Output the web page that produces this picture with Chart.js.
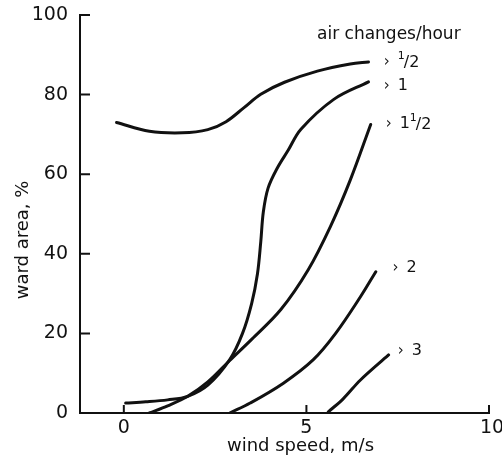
<!DOCTYPE html>
<html>
<head>
<meta charset="utf-8">
<script src="https://cdn.jsdelivr.net/npm/chart.js@4.4.0/dist/chart.umd.min.js"></script>
<style>
    html, body { margin: 0; padding: 0; background: #fff; }
    #chartCanvas { display: block; }
</style>
</head>
<body>
<canvas id="chartCanvas" width="502" height="461"></canvas>
<script>
const xTicks = [0, 5, 10];
const yTicks = [0, 20, 40, 60, 80, 100];

// wind speed (m/s) -> ward area (%)
const halfX = [-0.2, 0.7, 1.6, 2.3, 2.8, 3.3, 3.75, 4.4, 5.3, 6.2, 6.7];
const halfY = [73, 70.8, 70.4, 71.2, 73.2, 76.8, 80.1, 83.1, 85.9, 87.7, 88.2];

const oneX = [0.05, 0.6, 1.2, 1.75, 2.3, 2.9, 3.25, 3.5, 3.66, 3.75, 3.82, 3.95, 4.2, 4.5, 4.85, 5.75, 6.7];
const oneY = [2.5, 2.8, 3.3, 4.2, 7, 13.4, 20, 27.5, 35, 43, 50.5, 56.5, 61.5, 66, 71.3, 78.8, 83.2];

const oneHalfX = [0.7, 1.2, 1.75, 2.3, 2.9, 3.5, 4.3, 5.05, 5.66, 6.2, 6.76];
const oneHalfY = [0, 1.8, 4.2, 7.8, 13.2, 18.5, 26, 36, 46.9, 58.5, 72.5];

const twoX = [2.9, 3.46, 4.37, 5.19, 5.8, 6.48, 6.9];
const twoY = [0, 2.5, 7.5, 13.4, 20, 29.2, 35.5];

const threeX = [5.6, 6.0, 6.48, 7.25];
const threeY = [0.3, 3.5, 8.3, 14.6];

// curve labels: whole part, fraction numerator, fraction denominator, anchor (data coords)
const labelWhole = ["", "1", "1", "2", "3"];
const labelNum = ["1", "", "1", "", ""];
const labelDen = ["2", "", "2", "", ""];
const labelX = [7.12, 7.12, 7.17, 7.36, 7.5];
const labelY = [88.2, 82.2, 72.6, 36.4, 15.6];

const legendTitle = "air changes/hour";
const xTitle = "wind speed, m/s";
const yTitle = "ward area, %";

const INK = "#111";
const FONT = '"DejaVu Sans", sans-serif';

function points(xs, ys) {
    return xs.map((x, i) => ({ x: x, y: ys[i] }));
}

function curve(xs, ys) {
    return {
        data: points(xs, ys),
        borderColor: INK,
        borderWidth: 3,
        pointRadius: 0,
        fill: false,
        tension: 0.35,
        borderCapStyle: 'round'
    };
}

const drawAxes = {
    id: 'drawAxes',
    afterDraw(chart) {
        const ctx = chart.ctx;
        const xs = chart.scales.x;
        const ys = chart.scales.y;
        const left = chart.chartArea.left;
        const bottom = ys.getPixelForValue(0);
        const top = ys.getPixelForValue(100);
        const right = xs.getPixelForValue(10);

        ctx.save();
        ctx.strokeStyle = INK;
        ctx.lineWidth = 2;
        ctx.lineCap = 'square';

        ctx.beginPath();
        ctx.moveTo(left, top);
        ctx.lineTo(left, bottom);
        ctx.lineTo(right, bottom);
        ctx.stroke();

        // ticks point inward
        ctx.beginPath();
        yTicks.forEach(v => {
            if (v === 0) return;
            const py = ys.getPixelForValue(v);
            ctx.moveTo(left, py);
            ctx.lineTo(left + 9, py);
        });
        xTicks.forEach(v => {
            const px = xs.getPixelForValue(v);
            ctx.moveTo(px, bottom);
            ctx.lineTo(px, bottom - 7);
        });
        ctx.stroke();

        ctx.fillStyle = INK;
        ctx.font = '19px ' + FONT;
        ctx.textBaseline = 'middle';
        ctx.textAlign = 'right';
        yTicks.forEach(v => {
            ctx.fillText(String(v), left - 12, ys.getPixelForValue(v));
        });
        ctx.textAlign = 'center';
        xTicks.forEach(v => {
            const px = xs.getPixelForValue(v);
            ctx.fillText(String(v), v === 10 ? px + 3 : px, bottom + 15);
        });

        // axis titles
        ctx.font = '18px ' + FONT;
        ctx.fillText(xTitle, (left + right) / 2 + 16, bottom + 33);
        ctx.save();
        ctx.translate(23, 240);
        ctx.rotate(-Math.PI / 2);
        ctx.fillText(yTitle, 0, 0);
        ctx.restore();

        // legend title
        ctx.font = '17px ' + FONT;
        ctx.textAlign = 'left';
        ctx.fillText(legendTitle, xs.getPixelForValue(5.29), ys.getPixelForValue(95.2));

        // curve labels
        labelWhole.forEach((whole, i) => {
            let px = xs.getPixelForValue(labelX[i]);
            const py = ys.getPixelForValue(labelY[i]);
            ctx.font = '15px ' + FONT;
            ctx.fillText('›', px, py);
            px += 14;
            ctx.font = '16px ' + FONT;
            if (whole) {
                ctx.fillText(whole, px, py);
                px += ctx.measureText(whole).width;
            }
            if (labelNum[i]) {
                ctx.font = '11px ' + FONT;
                ctx.fillText(labelNum[i], px, py - 6);
                px += ctx.measureText(labelNum[i]).width - 1;
                ctx.font = '16px ' + FONT;
                ctx.fillText('/' + labelDen[i], px, py + 1);
            }
        });
        ctx.restore();
    }
};

const ctx = document.getElementById("chartCanvas").getContext('2d');
const chart = new Chart(ctx, {
    type: 'line',
    data: {
        datasets: [
            curve(halfX, halfY),
            curve(oneX, oneY),
            curve(oneHalfX, oneHalfY),
            curve(twoX, twoY),
            curve(threeX, threeY)
        ]
    },
    options: {
        responsive: false,
        animation: false,
        layout: { padding: { left: 80, right: 13, top: 15, bottom: 48 } },
        plugins: {
            legend: { display: false },
            tooltip: { enabled: false }
        },
        scales: {
            x: { type: 'linear', min: -1.2, max: 10, display: false },
            y: { type: 'linear', min: 0, max: 100, display: false }
        }
    },
    plugins: [drawAxes]
});
</script>
</body>
</html>
